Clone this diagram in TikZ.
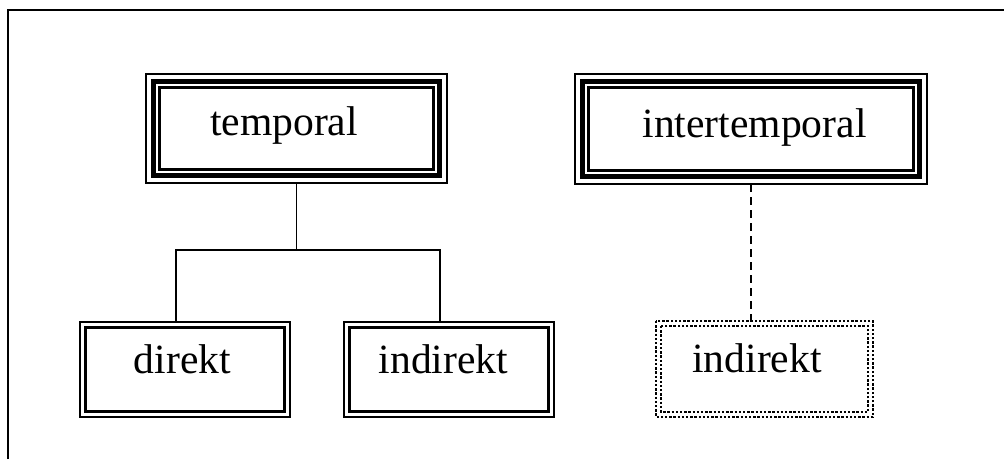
\documentclass[tikz,border=0pt]{standalone}
\usepackage{fontspec}
\setmainfont{Liberation Serif}
\newcommand{\tripleframe}[1]{%
  \draw[line width=1.8pt] (#1.north west) rectangle (#1.south east);
  \draw[line width=5.5pt] ([shift={(7.5,7.5)}]#1.north west) rectangle ([shift={(-7.5,-7.5)}]#1.south east);
  \draw[line width=2.2pt] ([shift={(13.5,13.5)}]#1.north west) rectangle ([shift={(-13.5,-13.5)}]#1.south east);}
\newcommand{\dottedframe}[1]{%
  \draw[dotbox] (#1.north west) rectangle (#1.south east);
  \draw[dotbox] ([shift={(5,5)}]#1.north west) rectangle ([shift={(-5,-5)}]#1.south east);}
\tikzset{
  x=1pt, y=-1pt,
  box/.style={draw=none, inner sep=0pt, outer sep=0pt, rectangle},
  dblbox/.style={draw, double, double distance=3pt, line width=2.3pt,
    inner sep=0pt, outer sep=3.8pt, minimum width=204.5pt, minimum height=89.5pt},
  dotbox/.style={line width=2.7pt, dash pattern=on 2.4pt off 1.8pt},
  label/.style={anchor=base, inner sep=0pt, font=\fontsize{41.6pt}{48pt}\selectfont},
  conn/.style={line width=1.9pt},
  dashconn/.style={line width=1.9pt, dash pattern=on 8pt off 5pt},
}
\begin{document}
\begin{tikzpicture}
\useasboundingbox (0,0) rectangle (1004,459);
\fill[white] (0,0) rectangle (1004,459);

% open frame along the top and left edges
\draw[line width=2pt] (8,459) -- (8,10) -- (1004,10);

% upper category boxes
\node[box, minimum width=301pt, minimum height=109pt] (temporal) at (296.5,128.5) {};
\node[box, minimum width=352pt, minimum height=110pt] (inter) at (751,129) {};
\tripleframe{temporal}
\tripleframe{inter}

% lower boxes
\node[dblbox] (direkt) at (185,369.5) {};
\node[dblbox] (indL) at (449,369.5) {};
\node[box, minimum width=217pt, minimum height=96pt] (indR) at (764.5,369) {};
\dottedframe{indR}

% labels
\node[label] (tTemporal) at (284,135) {temporal};
\node[label] (tInter) at (754.5,137) {intertemporal};
\node[label] (tDirekt) at (182.5,373) {direkt};
\node[label] (tIndL) at (443.5,373) {indirekt};
\node[label] (tIndR) at (757,372) {indirekt};

% connectors
\coordinate (j) at (296.5,250);
\draw[conn] (temporal.south) -- (j);
\draw[conn] ([xshift=-9pt]direkt.north) |- (j) -| ([xshift=-9pt]indL.north);
\draw[dashconn] (inter.south) -- (inter.south |- indR.north);
\end{tikzpicture}
\end{document}
